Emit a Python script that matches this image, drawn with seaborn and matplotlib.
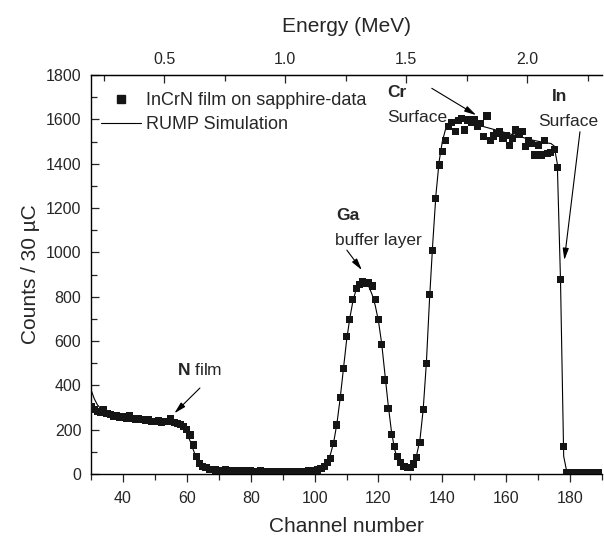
import matplotlib
matplotlib.use("Agg")
import matplotlib.pyplot as plt
import seaborn as sns
import numpy as np
import pandas as pd
from matplotlib.ticker import MultipleLocator
from matplotlib.lines import Line2D

channels = list(range(30, 191))

counts = [
    304, 290, 281, 276, 289, 275, 268, 259, 262, 256,
    259, 252, 266, 250, 248, 251, 245, 240, 244, 238,
    236, 240, 234, 236, 238, 251, 232, 229, 222, 213,
    200, 176, 131, 78, 48, 35, 28, 22, 20, 18,
    17, 16, 18, 15, 16, 14, 15, 13, 15, 12,
    14, 13, 12, 14, 11, 13, 12, 10, 12, 11,
    10, 12, 11, 10, 12, 11, 13, 12, 14, 13,
    16, 18, 24, 35, 50, 71, 138, 221, 346, 477,
    619, 695, 788, 838, 855, 868, 860, 866, 848, 788,
    695, 585, 424, 296, 179, 123, 80, 50, 35, 28,
    30, 45, 75, 141, 289, 499, 810, 1010, 1243, 1394,
    1454, 1504, 1567, 1585, 1544, 1595, 1604, 1552, 1597, 1588,
    1597, 1567, 1580, 1522, 1615, 1506, 1525, 1535, 1544, 1512,
    1529, 1484, 1514, 1552, 1530, 1544, 1479, 1506, 1492, 1439,
    1484, 1439, 1506, 1447, 1450, 1465, 1383, 878, 125, 6,
    5, 4, 5, 6, 4, 5, 5, 4, 6, 5, 5,
]

simulation = [
    380, 340, 312, 296, 286, 279, 273, 268, 264, 260,
    257, 255, 253, 251, 249, 247, 245, 243, 241, 240,
    238, 237, 235, 233, 231, 229, 226, 222, 215, 203,
    183, 150, 110, 72, 45, 30, 22, 18, 16, 15,
    14, 14, 14, 14, 14, 14, 14, 14, 14, 14,
    13, 13, 13, 13, 13, 13, 13, 13, 13, 13,
    12, 12, 12, 12, 12, 12, 12, 13, 13, 14,
    16, 20, 28, 40, 58, 90, 145, 228, 340, 470,
    600, 700, 780, 832, 858, 866, 862, 845, 810, 760,
    690, 590, 455, 318, 200, 115, 65, 35, 22, 20,
    28, 50, 88, 155, 290, 500, 790, 1040, 1260, 1410,
    1500, 1555, 1585, 1597, 1600, 1598, 1595, 1591, 1587, 1583,
    1579, 1575, 1571, 1567, 1563, 1559, 1555, 1551, 1547, 1543,
    1539, 1535, 1531, 1527, 1523, 1519, 1515, 1511, 1507, 1504,
    1501, 1498, 1495, 1493, 1491, 1480, 1400, 878, 80, 8,
    5, 5, 5, 5, 5, 5, 5, 5, 5, 5, 5,
]

energy_ticks = [0.5, 1.0, 1.5, 2.0]
x_ticks = [40, 60, 80, 100, 120, 140, 160, 180]
y_ticks = [0, 200, 400, 600, 800, 1000, 1200, 1400, 1600, 1800]

sns.set_style("white")
plt.rcParams["font.family"] = ["Liberation Sans", "DejaVu Sans"]
plt.rcParams["mathtext.fontset"] = "custom"
plt.rcParams["mathtext.rm"] = "Liberation Sans"
plt.rcParams["mathtext.bf"] = "Liberation Sans:bold"

df = pd.DataFrame({"channel": channels, "counts": counts, "sim": simulation})

fig = plt.figure(figsize=(6.04, 5.4), dpi=100)
ax = fig.add_axes([0.1507, 0.1222, 0.8460, 0.7389])

sns.lineplot(data=df, x="channel", y="sim", color="black", lw=0.8, ax=ax, zorder=2)
sns.scatterplot(data=df, x="channel", y="counts", marker="s", s=26, color="#151515",
                edgecolor="none", linewidth=0, ax=ax, zorder=3)

ax.set_xlim(30, 190)
ax.set_ylim(0, 1800)
ax.set_xticks(x_ticks)
ax.set_yticks(y_ticks)
ax.xaxis.set_minor_locator(MultipleLocator(10))
ax.yaxis.set_minor_locator(MultipleLocator(100))
ax.tick_params(axis="x", which="both", direction="out", bottom=True, top=False,
               labelsize=11.5, pad=7, width=0.9)
ax.tick_params(axis="x", which="major", length=5.5)
ax.tick_params(axis="x", which="minor", length=4)
ax.tick_params(axis="y", which="both", direction="in", left=True, right=False,
               labelsize=11.5, pad=7, width=0.9)
ax.tick_params(axis="y", which="major", length=5.5)
ax.tick_params(axis="y", which="minor", length=4)
for s in ["left", "bottom", "top"]:
    ax.spines[s].set_linewidth(1.0)
    ax.spines[s].set_color("black")
ax.spines["right"].set_visible(False)

ax.set_xlabel("Channel number", fontsize=15, labelpad=8)
ax.set_ylabel("Counts / 30 \u00b5C", fontsize=15, labelpad=4)

def ch2e(c):
    return 0.01319 * (np.asarray(c) - 15.0)

def e2ch(e):
    return np.asarray(e) / 0.01319 + 15.0

sec = ax.secondary_xaxis("top", functions=(ch2e, e2ch))
sec.set_xticks(energy_ticks)
sec.set_xticklabels(["0.5", "1.0", "1.5", "2.0"])
sec.xaxis.set_minor_locator(MultipleLocator(0.25))
sec.tick_params(which="both", direction="in", labelsize=11.5, pad=6, width=0.9)
sec.tick_params(which="major", length=5.5)
sec.tick_params(which="minor", length=4)
sec.set_xlabel("Energy (MeV)", fontsize=15, labelpad=14)

handles = [
    Line2D([], [], marker="s", color="#151515", linestyle="none", markersize=5.5),
    Line2D([], [], color="black", lw=0.8),
]
ax.legend(handles, ["InCrN film on sapphire-data", "RUMP Simulation"],
          loc="upper left", bbox_to_anchor=(0.02, 0.957), frameon=False,
          fontsize=13, handlelength=2.2, handletextpad=0.3, borderpad=0,
          borderaxespad=0, labelspacing=0.38)

fs = 12.5
arrow = dict(arrowstyle="-|>,head_width=0.18,head_length=0.7", color="black",
             lw=0.8, shrinkA=0, shrinkB=0)

ax.text(56.8, 469, r"$\mathbf{N}$ film", fontsize=fs, ha="left", va="center")
ax.annotate("", xy=(56.1, 274), xytext=(64.1, 388), arrowprops=arrow)

ax.text(106.7, 1165, "Ga", fontsize=fs, fontweight="bold", ha="left", va="center")
ax.text(106.4, 1055, "buffer layer", fontsize=fs, ha="left", va="center")
ax.annotate("", xy=(114.8, 920), xytext=(110.1, 1010), arrowprops=arrow)

ax.text(122.7, 1723, "Cr", fontsize=fs, fontweight="bold", ha="left", va="center")
ax.text(122.7, 1610, "Surface", fontsize=fs, ha="left", va="center")
ax.annotate("", xy=(150.6, 1619), xytext=(136.7, 1740), arrowprops=arrow)

ax.text(174.4, 1705, "In", fontsize=fs, fontweight="bold", ha="left", va="center")
ax.text(170.1, 1592, "Surface", fontsize=fs, ha="left", va="center")
ax.annotate("", xy=(178.2, 965), xytext=(183.1, 1544), arrowprops=arrow)

fig.savefig("out.png", dpi=100)
